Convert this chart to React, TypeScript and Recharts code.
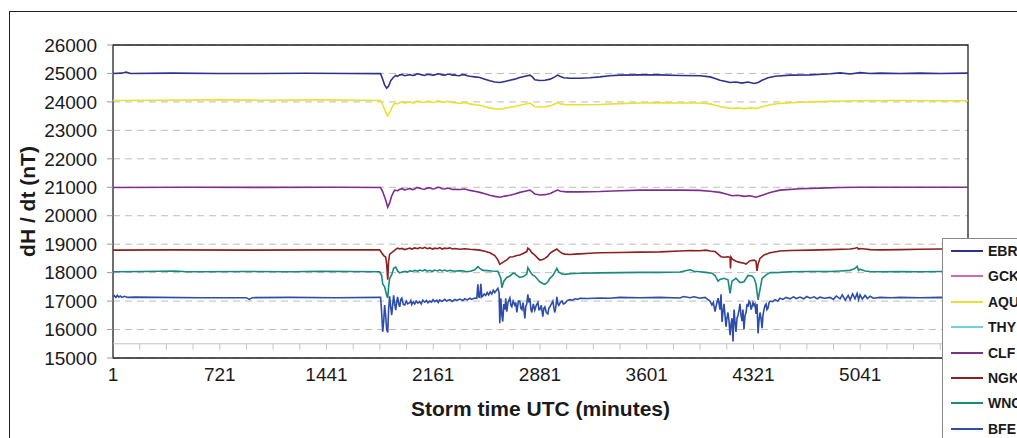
import React from 'react';
import { LineChart, Line, XAxis, YAxis, CartesianGrid, ReferenceArea, ReferenceLine } from 'recharts';

type P = [number, number];

const X_TICKS = [1, 721, 1441, 2161, 2881, 3601, 4321, 5041];
const MINOR_TICKS = [181, 361, 541, 721, 901, 1081, 1261, 1441, 1621, 1801, 1981, 2161, 2341, 2521, 2701, 2881, 3061, 3241, 3421, 3601, 3781, 3961, 4141, 4321, 4501, 4681, 4861, 5041, 5221, 5401, 5581];
const Y_TICKS = [15000, 16000, 17000, 18000, 19000, 20000, 21000, 22000, 23000, 24000, 25000, 26000];
const X_MAX = 5768;

const EBR: P[] = [[1,25000],[60,25010],[90,25050],[120,25000],[400,25010],[700,25000],[1000,25000],[1300,25005],[1600,25000],[1806,24995],[1820,24800],[1833,24600],[1847,24480],[1860,24560],[1875,24750],[1890,24850],[1908,24930],[1920,24900],[1935,24950],[1950,24960],[1969,24920],[1985,24940],[2003,24960],[2020,24930],[2036,24940],[2050,24990],[2070,24970],[2085,24950],[2104,24930],[2120,24970],[2138,24960],[2155,24940],[2171,24950],[2190,24990],[2205,24980],[2220,24950],[2240,24940],[2255,24970],[2273,24970],[2290,24940],[2306,24950],[2320,24930],[2340,24920],[2355,24960],[2374,24950],[2390,24920],[2408,24900],[2441,24880],[2475,24860],[2509,24800],[2543,24740],[2576,24700],[2610,24680],[2644,24720],[2678,24760],[2711,24800],[2745,24860],[2780,24900],[2813,24940],[2830,24880],[2846,24780],[2880,24750],[2914,24760],[2950,24800],[2981,24880],[3000,24940],[3015,24900],[3040,24850],[3083,24830],[3150,24830],[3218,24850],[3285,24880],[3350,24920],[3420,24940],[3555,24950],[3690,24950],[3825,24930],[3960,24920],[4028,24880],[4062,24820],[4095,24760],[4136,24720],[4163,24680],[4203,24700],[4244,24660],[4284,24700],[4325,24650],[4352,24680],[4379,24760],[4419,24850],[4467,24900],[4568,24940],[4703,24950],[4838,24990],[4905,25020],[4973,24980],[5040,25030],[5108,25000],[5175,25010],[5310,25000],[5445,25010],[5580,25000],[5768,25010]];

const GCK: P[] = [];

const AQU: P[] = [[1,24050],[300,24060],[700,24070],[1000,24060],[1400,24070],[1700,24060],[1806,24050],[1820,23900],[1840,23650],[1854,23510],[1867,23620],[1881,23800],[1900,23950],[1920,23930],[1935,23980],[1950,24000],[1969,23960],[1985,23980],[2003,24000],[2020,23960],[2036,23970],[2050,24030],[2070,24010],[2085,23990],[2104,23980],[2120,24020],[2138,24020],[2155,23980],[2171,23990],[2190,24040],[2205,24030],[2220,23990],[2240,23990],[2255,24020],[2273,24010],[2290,23970],[2306,23980],[2340,23950],[2374,23980],[2408,23930],[2441,23900],[2475,23880],[2509,23830],[2543,23790],[2576,23760],[2610,23740],[2644,23780],[2678,23810],[2711,23840],[2745,23880],[2780,23920],[2813,23960],[2830,23900],[2846,23830],[2880,23820],[2914,23830],[2950,23860],[2981,23930],[3000,23970],[3020,23930],[3060,23900],[3150,23900],[3285,23910],[3420,23940],[3555,23960],[3690,23970],[3825,23960],[3960,23960],[4028,23930],[4062,23880],[4095,23840],[4136,23800],[4176,23770],[4217,23790],[4257,23760],[4298,23790],[4338,23770],[4379,23830],[4433,23900],[4500,23950],[4635,23990],[4770,24010],[4905,24030],[5040,24040],[5310,24050],[5580,24040],[5768,24040]];

const THY: P[] = [];

const CLF: P[] = [[1,20990],[500,21000],[1000,20995],[1500,21000],[1806,20990],[1820,20850],[1840,20550],[1854,20300],[1867,20450],[1881,20700],[1900,20900],[1920,20880],[1935,20930],[1950,20950],[1969,20910],[1985,20930],[2003,20960],[2020,20920],[2036,20940],[2050,20990],[2070,20970],[2085,20940],[2104,20930],[2120,20970],[2138,20980],[2155,20940],[2171,20950],[2190,21000],[2205,20990],[2220,20950],[2240,20940],[2255,20970],[2273,20960],[2290,20920],[2306,20930],[2340,20920],[2374,20940],[2408,20890],[2441,20860],[2475,20820],[2509,20770],[2543,20720],[2576,20680],[2610,20650],[2644,20690],[2678,20720],[2711,20760],[2745,20820],[2780,20860],[2813,20900],[2830,20840],[2846,20760],[2880,20730],[2914,20740],[2950,20780],[2981,20860],[3000,20900],[3020,20860],[3060,20840],[3150,20840],[3285,20850],[3420,20880],[3555,20900],[3690,20900],[3825,20900],[3960,20890],[4028,20860],[4095,20820],[4136,20760],[4176,20700],[4217,20720],[4257,20680],[4298,20700],[4338,20650],[4379,20720],[4433,20820],[4500,20900],[4635,20950],[4770,20970],[4905,20990],[5040,21000],[5310,21000],[5580,21000],[5768,21000]];

const NGK: P[] = [[1,18790],[400,18800],[900,18790],[1400,18800],[1800,18800],[1813,18700],[1827,18600],[1840,18550],[1847,18300],[1854,17750],[1860,18400],[1867,18650],[1881,18700],[1894,18760],[1908,18820],[1921,18860],[1935,18830],[1950,18850],[1969,18810],[1989,18840],[2003,18860],[2016,18830],[2036,18870],[2057,18840],[2070,18880],[2090,18850],[2104,18890],[2120,18840],[2138,18870],[2155,18830],[2171,18860],[2190,18840],[2205,18880],[2220,18830],[2239,18860],[2255,18850],[2273,18870],[2290,18830],[2306,18850],[2340,18820],[2374,18840],[2408,18820],[2441,18810],[2475,18790],[2509,18750],[2543,18700],[2576,18600],[2597,18450],[2610,18290],[2630,18360],[2657,18450],[2678,18550],[2700,18560],[2725,18600],[2745,18620],[2770,18680],[2792,18740],[2799,18860],[2813,18800],[2826,18700],[2846,18620],[2867,18500],[2880,18440],[2900,18460],[2914,18500],[2934,18580],[2948,18680],[2968,18750],[2995,18830],[3008,18760],[3029,18680],[3049,18650],[3083,18640],[3117,18650],[3150,18660],[3218,18680],[3285,18700],[3420,18710],[3555,18720],[3690,18730],[3825,18760],[3893,18780],[3960,18770],[4000,18790],[4028,18760],[4062,18740],[4082,18650],[4102,18560],[4122,18540],[4149,18560],[4163,18540],[4166,18150],[4170,18540],[4176,18480],[4203,18400],[4230,18360],[4257,18330],[4271,18300],[4298,18420],[4325,18440],[4338,18400],[4345,18060],[4352,18300],[4365,18500],[4392,18620],[4433,18700],[4500,18760],[4568,18780],[4703,18790],[4838,18810],[4973,18830],[5006,18860],[5020,18880],[5030,18820],[5040,18850],[5074,18830],[5108,18810],[5175,18800],[5310,18810],[5445,18820],[5580,18830],[5768,18840]];

const WNG: P[] = [[1,18030],[200,18040],[420,18060],[500,18030],[900,18040],[1200,18030],[1400,18050],[1600,18040],[1800,18030],[1813,17900],[1820,17600],[1833,17500],[1847,17200],[1854,17110],[1860,17500],[1867,17800],[1881,17930],[1894,18150],[1908,18190],[1921,18050],[1935,17990],[1950,18020],[1969,18050],[1989,18020],[2003,18070],[2020,18040],[2036,18080],[2057,18050],[2070,18090],[2090,18060],[2104,18100],[2120,18050],[2138,18080],[2155,18040],[2171,18090],[2190,18060],[2205,18100],[2220,18060],[2239,18090],[2255,18050],[2273,18080],[2306,18050],[2340,18070],[2374,18050],[2408,18040],[2441,18100],[2462,18210],[2475,18150],[2496,18080],[2529,18070],[2556,18060],[2597,18050],[2617,17800],[2624,17470],[2637,17700],[2657,17830],[2678,17880],[2700,17980],[2711,17970],[2725,17900],[2745,17830],[2770,17860],[2792,17950],[2799,18170],[2813,18050],[2830,17920],[2846,17880],[2867,17750],[2880,17680],[2900,17620],[2914,17590],[2934,17680],[2948,17800],[2968,17900],[2995,18150],[3008,18020],[3029,17950],[3049,17940],[3083,17960],[3117,17970],[3150,17980],[3285,17990],[3420,18000],[3555,18010],[3690,18010],[3825,18020],[3893,18100],[3920,18050],[3960,18030],[4000,18010],[4041,17980],[4062,17900],[4082,17700],[4095,17760],[4122,17800],[4149,17750],[4163,17270],[4176,17700],[4203,17800],[4230,17650],[4257,17680],[4284,17900],[4311,17880],[4325,17800],[4338,17600],[4352,17040],[4365,17400],[4379,17800],[4406,17920],[4433,18000],[4500,18010],[4568,18030],[4703,18040],[4838,18040],[4905,18060],[4973,18080],[5006,18150],[5020,18220],[5030,18080],[5040,18120],[5074,18060],[5108,18040],[5175,18030],[5310,18040],[5445,18030],[5580,18040],[5768,18070]];

const BFE: P[] = [[1,17150],[10,17190],[20,17130],[30,17200],[40,17140],[50,17180],[60,17130],[80,17170],[100,17130],[150,17140],[300,17130],[600,17120],[900,17120],[920,17060],[940,17120],[1200,17130],[1500,17120],[1790,17130],[1806,17130],[1813,16600],[1820,15920],[1827,16300],[1833,16860],[1840,16500],[1847,16000],[1854,15900],[1860,16700],[1867,17170],[1874,16800],[1881,16510],[1888,16900],[1894,17200],[1901,16900],[1908,16680],[1915,17000],[1921,17150],[1928,16900],[1935,16800],[1942,17050],[1949,17100],[1959,16880],[1969,16860],[1979,17000],[1989,16900],[2003,16950],[2010,17020],[2016,16880],[2026,16970],[2036,16900],[2046,17000],[2057,16930],[2070,16980],[2080,16900],[2090,17030],[2104,16960],[2115,17020],[2125,16940],[2138,17000],[2150,16960],[2160,17050],[2171,16980],[2185,17030],[2195,16950],[2205,17040],[2220,16990],[2239,17060],[2250,17000],[2273,17050],[2290,16990],[2306,17060],[2320,17020],[2340,17070],[2360,17020],[2374,17080],[2390,17040],[2408,17100],[2420,17060],[2441,17110],[2455,17100],[2462,17590],[2468,17150],[2475,17130],[2482,17610],[2489,17150],[2496,17180],[2505,17250],[2515,17200],[2525,17300],[2535,17220],[2545,17330],[2556,17250],[2566,17380],[2576,17300],[2590,17400],[2597,17450],[2605,17300],[2610,16220],[2617,17100],[2624,16500],[2630,16280],[2637,16900],[2644,16700],[2650,17100],[2657,16630],[2665,16950],[2678,17110],[2685,16850],[2691,16800],[2700,17000],[2711,16860],[2718,16950],[2725,16600],[2735,17000],[2745,17000],[2752,16750],[2759,16700],[2767,16950],[2779,16390],[2785,16800],[2792,16900],[2799,17240],[2806,16950],[2813,17100],[2820,16700],[2826,16600],[2836,16900],[2846,16680],[2856,16850],[2867,16950],[2874,16700],[2880,16700],[2890,16850],[2900,16450],[2907,16750],[2914,16800],[2924,16600],[2934,16550],[2941,16750],[2948,16800],[2958,16900],[2968,17000],[2975,16750],[2981,16600],[2988,16800],[2995,17150],[3002,16900],[3008,16850],[3018,16950],[3029,17000],[3039,16900],[3049,16920],[3066,17020],[3083,17050],[3100,17030],[3117,17080],[3135,17060],[3150,17100],[3200,17090],[3285,17110],[3350,17100],[3420,17130],[3555,17120],[3690,17130],[3825,17110],[3850,17160],[3893,17120],[3920,17150],[3960,17100],[3994,17130],[4015,17050],[4028,17000],[4041,16860],[4050,16950],[4062,16630],[4072,16900],[4082,17100],[4089,16900],[4095,16700],[4102,17240],[4109,16270],[4115,16600],[4122,16900],[4129,16500],[4136,16100],[4142,16400],[4149,16600],[4156,16300],[4163,15800],[4170,16200],[4176,16400],[4183,15580],[4190,16700],[4196,16300],[4203,15920],[4210,16400],[4217,16500],[4224,16700],[4230,16900],[4237,16500],[4244,16300],[4250,16700],[4257,16000],[4264,16500],[4271,16600],[4278,16900],[4284,16800],[4291,17000],[4298,16950],[4305,16700],[4311,16800],[4318,16950],[4325,16850],[4331,16900],[4338,16550],[4345,16900],[4352,15860],[4358,16300],[4365,16600],[4372,16400],[4379,16050],[4385,16500],[4392,16700],[4399,16850],[4406,16900],[4412,16700],[4419,16750],[4426,16950],[4433,17000],[4450,16980],[4467,17050],[4485,17000],[4500,17100],[4520,17060],[4540,17130],[4568,17080],[4590,17150],[4610,17090],[4635,17140],[4660,17080],[4680,17160],[4703,17100],[4730,17150],[4750,17080],[4770,17140],[4800,17100],[4838,17130],[4860,17060],[4880,17180],[4905,17080],[4920,17220],[4940,17030],[4960,17200],[4973,17050],[4990,17250],[5006,17080],[5020,17270],[5030,17050],[5040,17220],[5055,17070],[5074,17200],[5090,17090],[5108,17170],[5130,17100],[5175,17130],[5250,17120],[5310,17130],[5445,17120],[5580,17130],[5768,17110]];

const SERIES: { name: string; color: string; data: P[] }[] = [
  { name: 'EBR', color: '#2D3190', data: EBR },
  { name: 'GCK', color: '#CC6CB8', data: GCK },
  { name: 'AQU', color: '#E8E22E', data: AQU },
  { name: 'THY', color: '#6FCFE0', data: THY },
  { name: 'CLF', color: '#7E2F8E', data: CLF },
  { name: 'NGK', color: '#8E1F1F', data: NGK },
  { name: 'WNG', color: '#19897F', data: WNG },
  { name: 'BFE', color: '#2E4DAA', data: BFE },
];

const FONT = '"Liberation Sans", Arial, sans-serif';

export default function App() {
  return (
    <div style={{ position: 'fixed', left: 0, top: 0, width: 1017, height: 438, overflow: 'hidden', fontFamily: FONT, background: '#fff' }}>
      <div style={{ position: 'absolute', left: 9, top: 11, width: 1100, height: 600, border: '1.5px solid #222', boxSizing: 'border-box' }} />
      <div style={{ position: 'absolute', left: 8, top: 8 }}>
        <LineChart width={1009} height={430} margin={{ top: 37, right: 49, bottom: 18, left: 0 }}>
          <CartesianGrid horizontal vertical={false} stroke="#bdbdbd" strokeDasharray="7 5" />
          <XAxis
            type="number"
            dataKey="m"
            domain={[1, X_MAX]}
            ticks={X_TICKS}
            interval={0}
            allowDataOverflow
            axisLine={false}
            tickLine={false}
            tickSize={0}
            tickMargin={10}
            height={62}
            tick={{ fontSize: 19, fill: '#1a1a1a', fontFamily: FONT }}
            label={{ value: 'Storm time UTC (minutes)', position: 'insideBottom', offset: 4, style: { fontSize: 21, fontWeight: 'bold', fill: '#1a1a1a', fontFamily: FONT } }}
          />
          <YAxis
            type="number"
            domain={[15000, 26000]}
            ticks={Y_TICKS}
            interval={0}
            width={105}
            axisLine={false}
            tickLine={{ stroke: '#9a9a9a' }}
            tickSize={6}
            tickMargin={10}
            tick={{ fontSize: 19, fill: '#1a1a1a', fontFamily: FONT }}
            label={{ value: 'dH / dt (nT)', angle: -90, position: 'insideLeft', offset: 20, style: { textAnchor: 'middle', fontSize: 21, fontWeight: 'bold', fill: '#1a1a1a', fontFamily: FONT } }}
          />
          <ReferenceLine y={15500} stroke="#c4c4c4" strokeWidth={1} />
          {MINOR_TICKS.map((t) => (
            <ReferenceLine key={t} segment={[{ x: t, y: 15500 }, { x: t, y: 15290 }]} stroke="#c4c4c4" strokeWidth={1} />
          ))}
          {SERIES.map((s) => (
            <Line
              key={s.name}
              name={s.name}
              data={s.data.map(([m, v]) => ({ m, v }))}
              dataKey="v"
              type="linear"
              stroke={s.color}
              strokeWidth={1.6}
              dot={false}
              activeDot={false}
              isAnimationActive={false}
            />
          ))}
          <ReferenceArea x1={1} x2={X_MAX} y1={15000} y2={26000} fill="none" fillOpacity={0} stroke="#222" strokeWidth={1.3} />
        </LineChart>
      </div>
      <div style={{ position: 'absolute', left: 942, top: 238, width: 200, height: 300, background: '#fff', border: '1px solid #8a8a8a', boxSizing: 'border-box' }}>
        {SERIES.map((s, i) => (
          <div key={s.name} style={{ position: 'absolute', left: 8, top: 12 + i * 25.4 - 9, height: 18, display: 'flex', alignItems: 'center' }}>
            <div style={{ width: 32, height: 2, background: s.color }} />
            <span style={{ marginLeft: 5, fontSize: 14, fontWeight: 'bold', color: '#1a1a1a', fontFamily: FONT }}>{s.name}</span>
          </div>
        ))}
      </div>
    </div>
  );
}
